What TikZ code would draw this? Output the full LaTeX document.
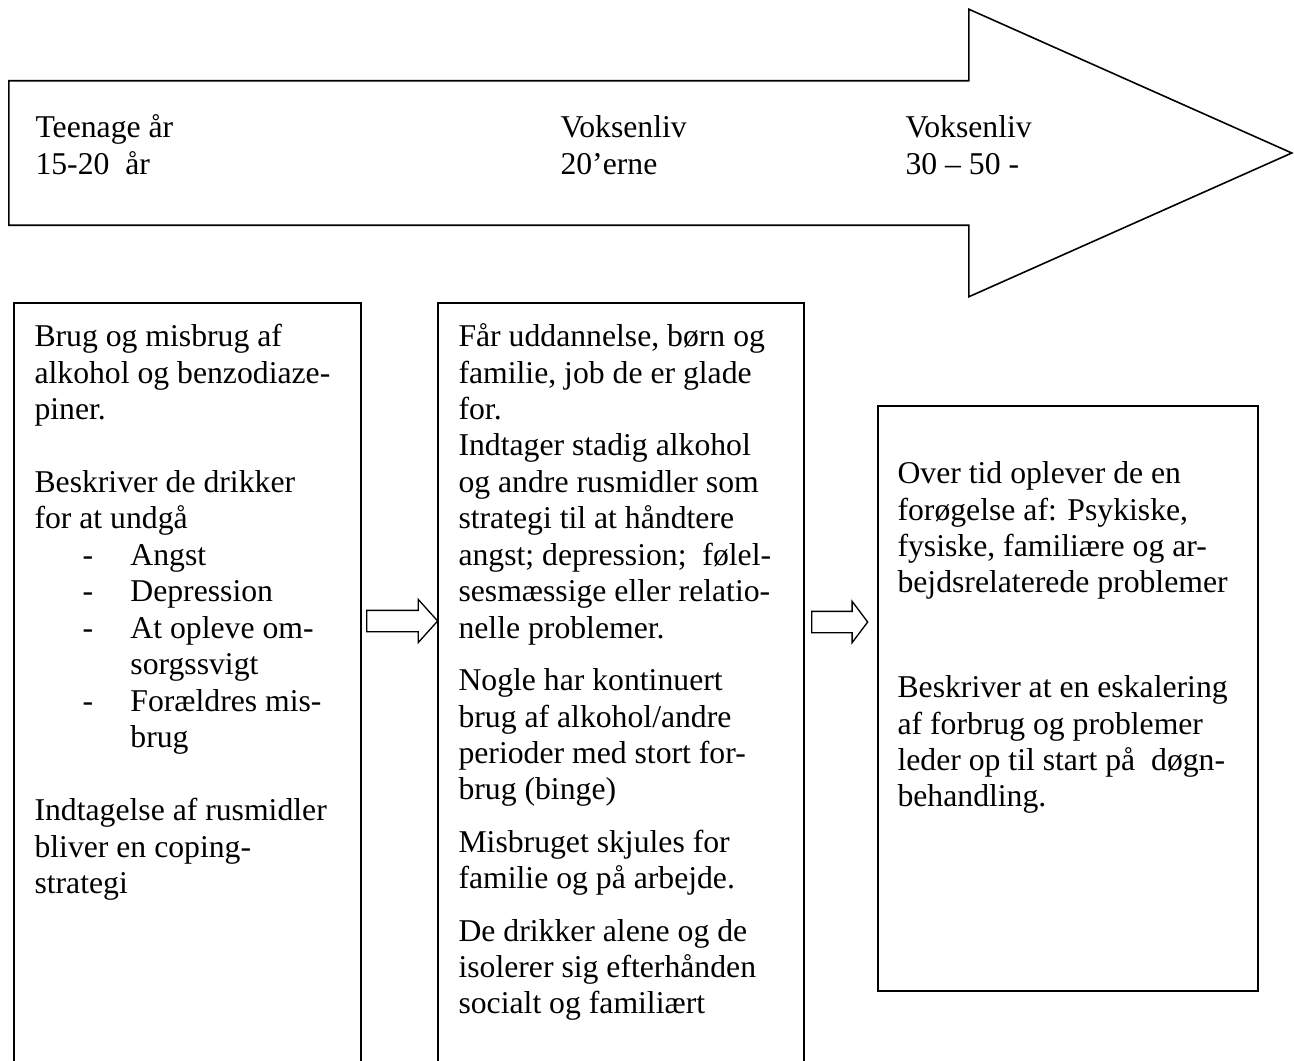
\documentclass[tikz,border=0pt]{standalone}
\usepackage{fontspec}
\setmainfont{Liberation Serif}
\usetikzlibrary{shapes.arrows}

\tikzset{
  stagebox/.style={rectangle, draw, line width=0.75pt, anchor=north west, inner sep=0pt},
  stagetext/.style={anchor=north west, inner sep=0pt, align=left, font=\fontsize{12}{13.8}\selectfont},
  blockarrow/.style={single arrow, draw, anchor=tail, inner xsep=0pt, single arrow head extend=#1}
}
\newcommand{\listdash}[1]{\hspace*{18.2pt}\makebox[18.1pt][l]{-}#1}
\newcommand{\listcont}[1]{\hspace*{36.3pt}#1}

\begin{document}
\begin{tikzpicture}[x=0.3785pt, y=-0.3785pt]
  \useasboundingbox (0,0) rectangle (1294,1061);
  \clip (0,0) rectangle (1294,1061);
  % Timeline
  \node (timeline) [blockarrow=27.06pt, inner ysep=27.06pt, line width=0.6pt, minimum height=485.6pt, single arrow tip angle=48] at (8,153) {};
  \node (teen) [stagetext] at (35,111.5) {\strut Teenage år\\15-20\ \ år};
  \node (twenties) [stagetext] at (560,111.5) {\strut Voksenliv\\20’erne};
  \node (thirties) [stagetext] at (905,111.5) {\strut Voksenliv\\30 – 50 -};
  % Boxes
  \node (stage1) [stagebox, minimum width=131.34pt, minimum height=302pt] at (13,302) {};
  \node (stage2) [stagebox, minimum width=138.53pt, minimum height=302pt] at (437,302) {};
  \node (stage3) [stagebox, minimum width=143.83pt, minimum height=221.4pt] at (877,405) {};
  % Texts
  \node (text1) [stagetext] at (34,320.5) {\strut Brug og misbrug af\\
    alkohol og benzodiaze-\\
    piner.\\[13.8pt]
    Beskriver de drikker\\
    for at undgå\\
    \listdash{Angst}\\
    \listdash{Depression}\\
    \listdash{At opleve om-}\\
    \listcont{sorgssvigt}\\
    \listdash{Forældres mis-}\\
    \listcont{brug}\\[13.8pt]
    Indtagelse af rusmidler\\
    bliver en coping-\\
    strategi};
  \node (text2) [stagetext] at (458,320.5) {\strut Får uddannelse, børn og\\
    familie, job de er glade\\
    for.\\
    Indtager stadig alkohol\\
    og andre rusmidler som\\
    strategi til at håndtere\\
    angst; depression;\ \ følel-\\
    sesmæssige eller relatio-\\
    nelle problemer.\\[6pt]
    Nogle har kontinuert\\
    brug af alkohol/andre\\
    perioder med stort for-\\
    brug (binge)\\[6pt]
    Misbruget skjules for\\
    familie og på arbejde.\\[6pt]
    De drikker alene og de\\
    isolerer sig efterhånden\\
    socialt og familiært};
  \node (text3a) [stagetext] at (897,457.5) {\strut Over tid oplever de en\\
    forøgelse af: Psykiske,\\
    fysiske, familiære og ar-\\
    bejdsrelaterede problemer};
  \node (text3b) [stagetext] at (897,671.5) {\strut Beskriver at en eskalering\\
    af forbrug og problemer\\
    leder op til start på\ \ døgn-\\
    behandling.};
  % Arrows
  \node (step12) [blockarrow=4.16pt, inner ysep=3.785pt, line width=0.5pt, minimum height=26.87pt, single arrow tip angle=96] at (366,621) {};
  \node (step23) [blockarrow=3.785pt, inner ysep=3.785pt, line width=0.5pt, minimum height=21.2pt, single arrow tip angle=106] at (811,622) {};
\end{tikzpicture}
\end{document}
